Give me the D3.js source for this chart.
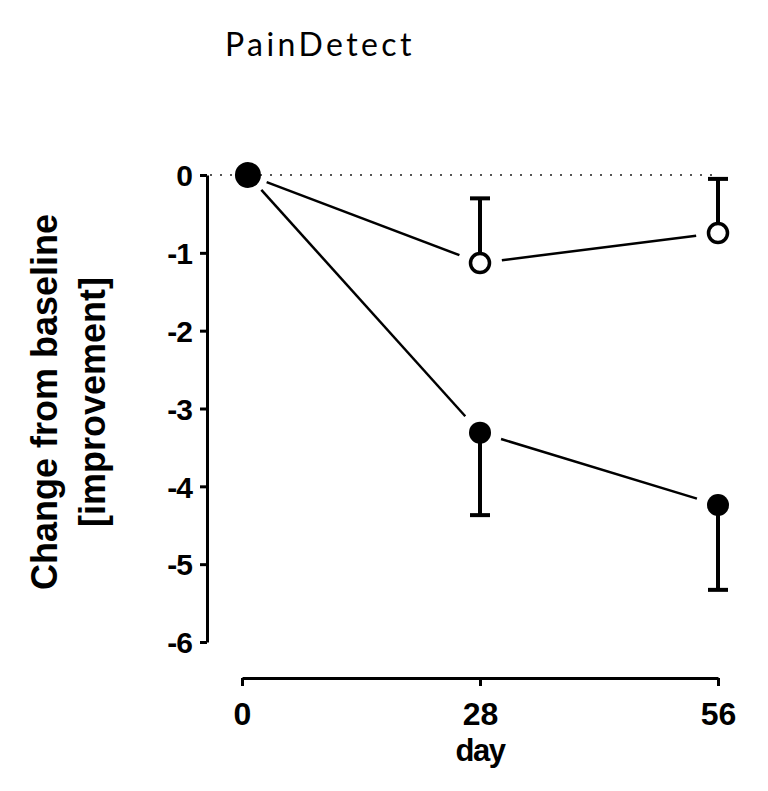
<!DOCTYPE html>
<html><head><meta charset="utf-8">
<script src="https://cdn.jsdelivr.net/npm/d3@7"></script>
<style>body{margin:0;background:#fff}</style>
</head><body>
<svg id="c" width="768" height="791"></svg>
<script>
const days = [0.7, 28, 56];
const filledMean = [0, -3.31, -4.24];
const filledErr = [0, -4.37, -5.33];
const openMean = [0, -1.13, -0.745];
const openErr = [0, -0.30, -0.05];
const xTicks = [0, 28, 56];
const yTicks = [0, -1, -2, -3, -4, -5, -6];

const svg = d3.select("#c");
const x = d3.scaleLinear().domain([0, 56]).range([242, 718]);
const y = d3.scaleLinear().domain([0, -6]).range([175, 642]);
const AF = "'Liberation Sans', Arial, sans-serif";

svg.append("text").attr("x", 225).attr("y", 56)
  .attr("font-family", "Lato, 'Open Sans', sans-serif").attr("font-size", 32)
  .attr("letter-spacing", 3.4)
  .text("PainDetect");

// y axis
const ya = svg.append("g").attr("transform", "translate(207,0)")
  .call(d3.axisLeft(y).tickValues(yTicks).tickSize(7).tickSizeOuter(0).tickFormat(d3.format("d")));
ya.select(".domain").attr("stroke-width", 3);
ya.selectAll(".tick line").attr("stroke-width", 3);
ya.selectAll("text").attr("font-family", AF)
  .attr("font-weight", "bold").attr("font-size", 30).attr("letter-spacing", -1).attr("x", -15).attr("dy", "0.36em");
ya.selectAll(".tick text").text(d => d < 0 ? "-" + Math.abs(d) : d);

// x axis
const xa = svg.append("g").attr("transform", "translate(0,678)")
  .call(d3.axisBottom(x).tickValues(xTicks).tickSize(8).tickSizeOuter(0).tickFormat(d3.format("d")));
xa.select(".domain").attr("stroke-width", 3);
xa.selectAll(".tick line").attr("stroke-width", 3);
xa.selectAll("text").attr("font-family", AF)
  .attr("font-weight", "bold").attr("font-size", 32).attr("y", 0).attr("dy", 47);

svg.append("text").attr("x", 480).attr("y", 761).attr("text-anchor", "middle")
  .attr("font-family", AF).attr("font-weight", "bold")
  .attr("font-size", 31).attr("letter-spacing", -1.5).text("day");

// y title
const yt = svg.append("text").attr("transform", "translate(57,402) rotate(-90)")
  .attr("text-anchor", "middle").attr("font-family", AF)
  .attr("font-weight", "bold").attr("font-size", 36);
yt.append("tspan").attr("x", 0).attr("dy", 0).text("Change from baseline");
yt.append("tspan").attr("x", 0).attr("dy", 48).text("[improvement]");

// zero dotted line
svg.append("line").attr("x1", 210).attr("x2", 718).attr("y1", y(0)).attr("y2", y(0))
  .attr("stroke", "#555").attr("stroke-width", 2).attr("stroke-dasharray", "2,8");

function segs(means) {
  const g = svg.append("g");
  for (let i = 0; i < days.length - 1; i++) {
    const x1 = x(days[i]), y1 = y(means[i]), x2 = x(days[i+1]), y2 = y(means[i+1]);
    const L = Math.hypot(x2 - x1, y2 - y1), ux = (x2 - x1) / L, uy = (y2 - y1) / L;
    const g1 = i === 0 ? 20 : 22, g2 = 22;
    g.append("line").attr("x1", x1 + ux * g1).attr("y1", y1 + uy * g1)
      .attr("x2", x2 - ux * g2).attr("y2", y2 - uy * g2)
      .attr("stroke", "#000").attr("stroke-width", 2.5);
  }
}
segs(openMean);
segs(filledMean);

function errs(means, errsArr) {
  for (let i = 1; i < days.length; i++) {
    const cx = x(days[i]);
    svg.append("line").attr("x1", cx).attr("x2", cx).attr("y1", y(means[i])).attr("y2", y(errsArr[i]))
      .attr("stroke", "#000").attr("stroke-width", 4);
    svg.append("line").attr("x1", cx - 10).attr("x2", cx + 10).attr("y1", y(errsArr[i])).attr("y2", y(errsArr[i]))
      .attr("stroke", "#000").attr("stroke-width", 4);
  }
}
errs(openMean, openErr);
errs(filledMean, filledErr);

// markers
svg.selectAll(".om").data(days.slice(1)).enter().append("circle")
  .attr("cx", d => x(d)).attr("cy", (d, i) => y(openMean[i + 1])).attr("r", 9.5)
  .attr("fill", "#fff").attr("stroke", "#000").attr("stroke-width", 3.5);
svg.selectAll(".fm").data(days).enter().append("circle")
  .attr("cx", d => x(d)).attr("cy", (d, i) => y(filledMean[i])).attr("r", (d, i) => i === 0 ? 13 : 11)
  .attr("fill", "#000");
</script>
</body></html>
